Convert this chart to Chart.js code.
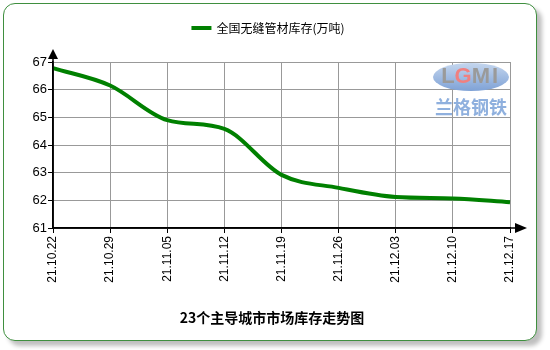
<!DOCTYPE html>
<html>
<head>
<meta charset="utf-8">
<script src="https://cdn.jsdelivr.net/npm/chart.js@4.4.1/dist/chart.umd.min.js"></script>
<style>
    html, body { margin: 0; padding: 0; background: #fff; }
    #wrap { position: relative; width: 550px; height: 350px; }
    #card {
        position: absolute; left: 3px; top: 3px; width: 532px; height: 336px;
        border: 1px solid #3f8f3f; border-radius: 12px; background: #fff;
        box-shadow: 5px 5px 4px rgba(0,0,0,0.25);
    }
    #chart { position: absolute; left: 0; top: 0; }
</style>
</head>
<body>
<div id="wrap">
    <div id="card"></div>
    <canvas id="chart" width="550" height="350"></canvas>
</div>
<script>
const dates     = ["21.10.22", "21.10.29", "21.11.05", "21.11.12", "21.11.19", "21.11.26", "21.12.03", "21.12.10", "21.12.17"];
const inventory = [66.78, 66.15, 64.9, 64.58, 62.92, 62.45, 62.12, 62.07, 61.93];
const seriesName = "全国无缝管材库存(万吨)";
const chartTitle = "23个主导城市市场库存走势图";
const lineColor  = "#008000";
const font = '"Liberation Sans", Arial, sans-serif';

// legend, title, axis arrows and the watermark logo
const decorations = {
    id: 'decorations',
    beforeDatasetsDraw(chart) {
        const ctx = chart.ctx;
        const area = chart.chartArea;
        ctx.save();
        // watermark
        const cx = area.right - 39, cy = area.top + 15;
        const grad = ctx.createLinearGradient(0, cy - 14, 0, cy + 14);
        grad.addColorStop(0, '#c4d6ee');
        grad.addColorStop(1, '#7fa2d6');
        ctx.fillStyle = grad;
        ctx.beginPath();
        ctx.ellipse(cx, cy, 38, 14, 0, 0, Math.PI * 2);
        ctx.fill();
        ctx.font = 'bold 22px ' + font;
        ctx.textAlign = 'center';
        ctx.textBaseline = 'middle';
        ctx.fillStyle = '#9a9a9a';
        ctx.fillText('L', cx - 23, cy);
        ctx.fillStyle = '#f08080';
        ctx.fillText('G', cx - 8, cy);
        ctx.fillStyle = '#9a9a9a';
        ctx.fillText('M', cx + 10, cy);
        ctx.fillText('I', cx + 24, cy);
        ctx.font = 'bold 18px "Noto Sans CJK SC", sans-serif';
        ctx.fillStyle = '#8fb0de';
        ctx.fillText('兰格钢铁', cx, cy + 30);
        ctx.restore();
    },
    afterDraw(chart) {
        const ctx = chart.ctx;
        const area = chart.chartArea;
        ctx.save();
        // axis extensions and arrows
        ctx.strokeStyle = '#000';
        ctx.lineWidth = 1.5;
        ctx.beginPath();
        ctx.moveTo(area.left, area.bottom);
        ctx.lineTo(area.right + 6, area.bottom);
        ctx.moveTo(area.left, area.bottom);
        ctx.lineTo(area.left, area.top - 4);
        ctx.stroke();
        ctx.fillStyle = '#000';
        ctx.beginPath();
        ctx.moveTo(area.left, area.top - 13);
        ctx.lineTo(area.left - 5, area.top - 3);
        ctx.lineTo(area.left + 5, area.top - 3);
        ctx.closePath();
        ctx.fill();
        ctx.beginPath();
        ctx.moveTo(area.right + 17, area.bottom);
        ctx.lineTo(area.right + 5, area.bottom - 5);
        ctx.lineTo(area.right + 5, area.bottom + 5);
        ctx.closePath();
        ctx.fill();

        // legend
        const legendY = 28;
        ctx.font = '12px "Noto Sans CJK SC", sans-serif';
        const tw = ctx.measureText(seriesName).width;
        const total = 20 + 5 + tw;
        const lx = 268 - total / 2;
        ctx.fillStyle = lineColor;
        ctx.fillRect(lx, legendY - 2, 20, 4);
        ctx.fillStyle = '#000';
        ctx.textAlign = 'left';
        ctx.textBaseline = 'middle';
        ctx.fillText(seriesName, lx + 25, legendY);

        // title
        ctx.font = 'bold 14px "Noto Sans CJK SC", sans-serif';
        ctx.textAlign = 'center';
        ctx.fillText(chartTitle, 272, 318);
        ctx.restore();
    }
};

const ctx = document.getElementById('chart').getContext('2d');
new Chart(ctx, {
    type: 'line',
    plugins: [decorations],
    data: {
        labels: dates,
        datasets: [{
            label: seriesName,
            data: inventory,
            borderColor: lineColor,
            borderWidth: 4,
            tension: 0.4,
            cubicInterpolationMode: 'monotone',
            pointRadius: 0,
            fill: false,
        }],
    },
    options: {
        responsive: false,
        animation: false,
        layout: { padding: { left: 10, right: 40, top: 62, bottom: 0 } },
        plugins: {
            legend: { display: false },
            title: { display: false },
            tooltip: { enabled: false },
        },
        scales: {
            x: {
                offset: false,
                afterFit(scale) { scale.height = 122; },
                grid: {
                    color: '#999',
                    borderDash: [1, 1],
                    tickColor: '#000',
                    tickBorderDash: [],
                    tickLength: 5,
                },
                border: { color: '#000', width: 1.5 },
                ticks: {
                    color: '#000',
                    font: { family: font, size: 12 },
                    maxRotation: 90,
                    minRotation: 90,
                    autoSkip: false,
                    padding: 3,
                },
            },
            y: {
                min: 61,
                max: 67,
                afterFit(scale) { scale.width = 43; },
                grid: {
                    color: '#999',
                    borderDash: [1, 1],
                    tickColor: '#000',
                    tickBorderDash: [],
                    tickLength: 5,
                },
                border: { color: '#000', width: 1.5 },
                ticks: {
                    stepSize: 1,
                    color: '#000',
                    font: { family: font, size: 13 },
                    padding: 1,
                },
            },
        },
    },
});
</script>
</body>
</html>
